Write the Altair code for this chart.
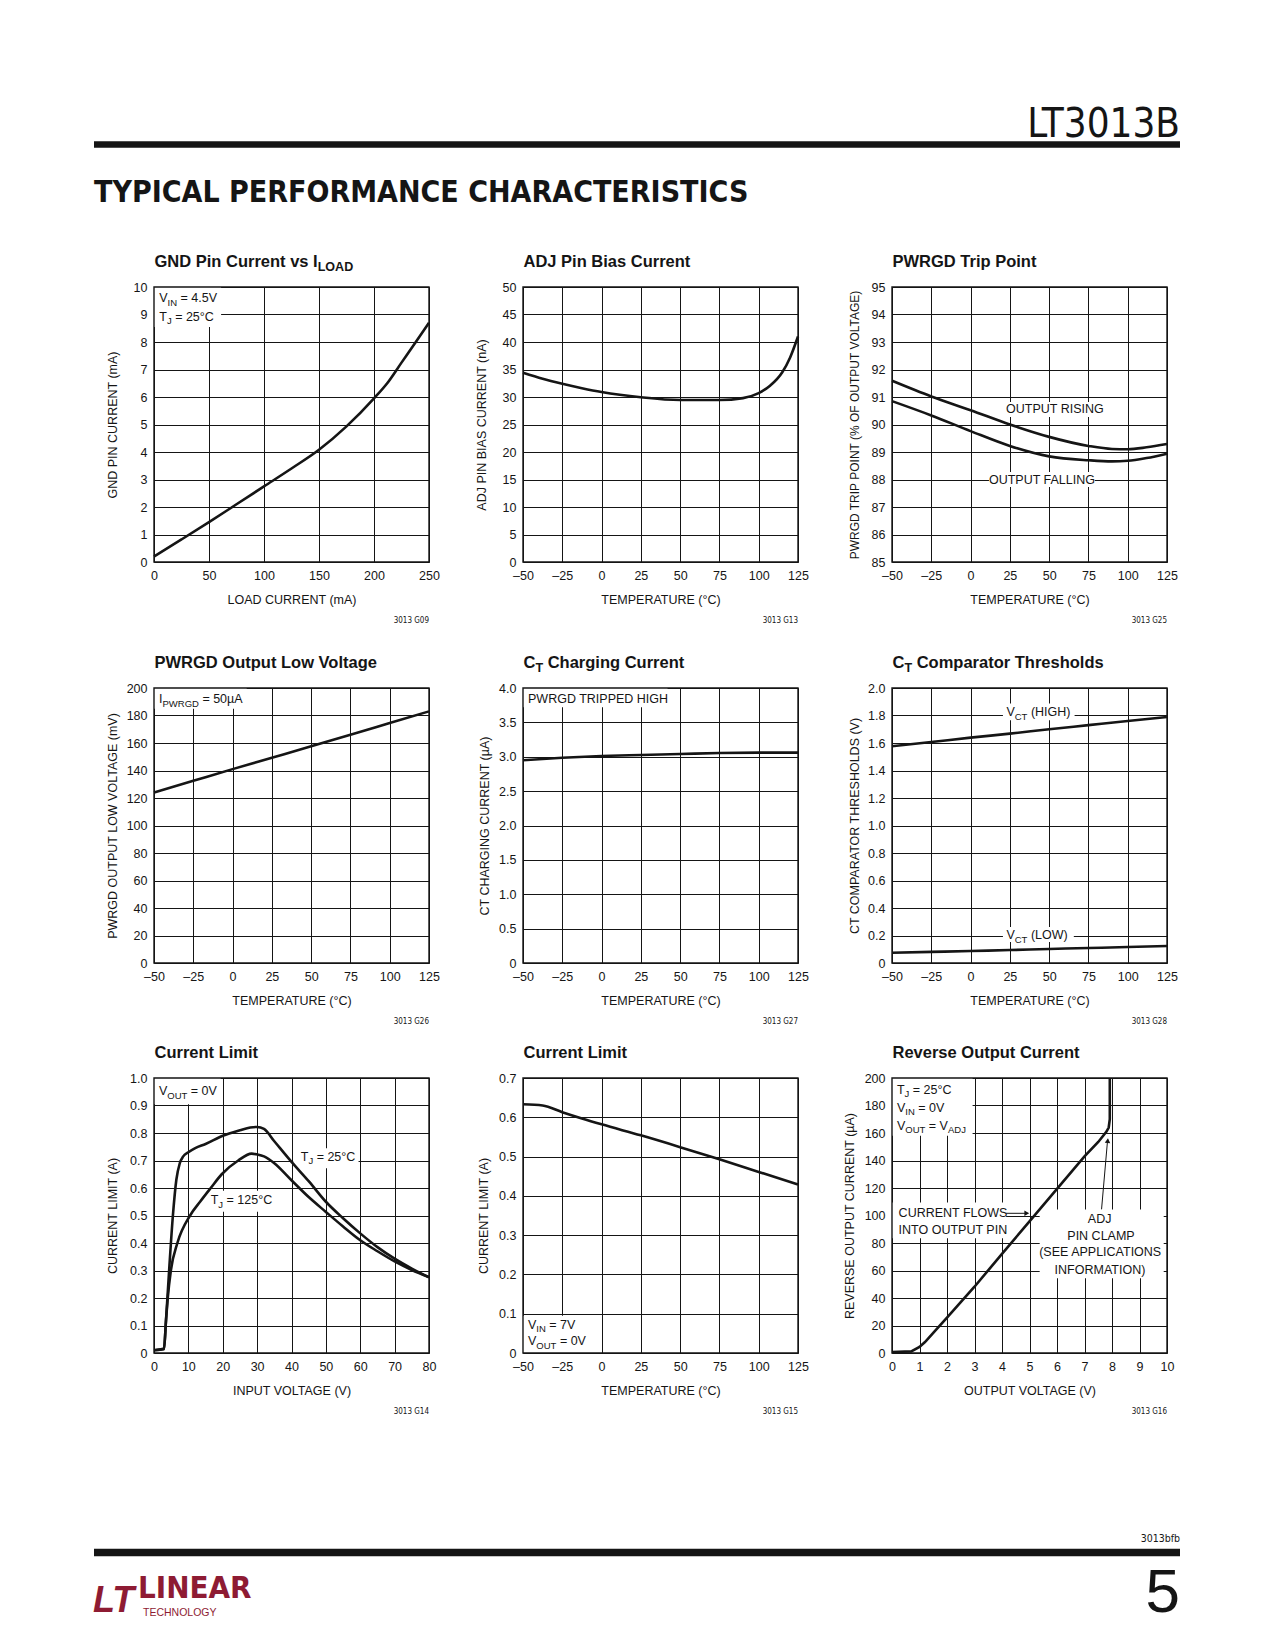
import altair as alt
import pandas as pd

FONT = "'Liberation Sans', Arial, sans-serif"
NARROW = "'DejaVu Sans Condensed', sans-serif"
INK = "#151515"
RED = "#8e1b33"
W = 275
H = 275
SUB = 0.76
FS = 12.5

# ---------------- data ----------------
gnd_load = [0, 25, 50, 75, 100, 125, 150, 175, 200, 212, 225, 238, 250]
gnd_current = [0.2, 0.82, 1.45, 2.1, 2.75, 3.4, 4.08, 4.93, 5.95, 6.5, 7.25, 8.0, 8.7]

adj_temp = [-50, -37.5, -25, -12.5, 0, 25, 50, 75, 90, 100, 107, 115, 120, 125]
adj_bias = [34.4, 33.3, 32.4, 31.6, 30.9, 29.95, 29.45, 29.45, 29.8, 30.7, 32.0, 34.5, 37.2, 41.0]

trip_temp = [-50, -25, 0, 25, 50, 75, 90, 100, 112, 125]
trip_rising = [91.59, 91.02, 90.52, 90.0, 89.55, 89.22, 89.11, 89.1, 89.17, 89.29]
trip_falling = [90.85, 90.33, 89.76, 89.22, 88.84, 88.7, 88.66, 88.68, 88.78, 88.94]

pwrgd_temp = [-50, -25, 0, 25, 50, 75, 100, 125]
pwrgd_low_mv = [124, 132.5, 141, 149.3, 157.6, 166, 174.5, 183]

ct_temp = [-50, -25, 0, 25, 50, 75, 100, 125]
ct_current = [2.95, 2.985, 3.01, 3.025, 3.04, 3.055, 3.06, 3.06]

cmp_temp = [-50, -25, 0, 25, 50, 75, 100, 125]
cmp_high = [1.576, 1.607, 1.639, 1.668, 1.70, 1.73, 1.76, 1.789]
cmp_low = [0.075, 0.081, 0.087, 0.094, 0.102, 0.109, 0.116, 0.124]

cl25_vin = [0, 2.9, 3.5, 4.5, 5.5, 6.5, 7.5, 8.5, 10, 12, 15, 20, 25, 28, 30, 32, 35, 40, 45, 50, 55, 60, 65, 70, 75, 80]
cl25_amp = [0.01, 0.015, 0.12, 0.32, 0.5, 0.63, 0.69, 0.715, 0.73, 0.745, 0.76, 0.79, 0.81, 0.82, 0.822, 0.815,
            0.77, 0.695, 0.625, 0.55, 0.49, 0.435, 0.385, 0.343, 0.307, 0.275]
cl125_vin = [0, 2.9, 3.5, 4, 4.9, 6.8, 10.5, 13.4, 16.5, 19.7, 24.5, 28.4, 30, 32, 35, 40, 45, 50, 55, 60, 65, 70, 75, 80]
cl125_amp = [0.01, 0.015, 0.12, 0.2, 0.3, 0.4, 0.5, 0.55, 0.6, 0.65, 0.7, 0.725, 0.722, 0.715, 0.69, 0.628,
             0.567, 0.513, 0.46, 0.41, 0.37, 0.333, 0.302, 0.276]

clt_temp = [-50, -37.5, -25, -12.5, 0, 25, 50, 75, 100, 125]
clt_amp = [0.633, 0.63, 0.613, 0.597, 0.582, 0.554, 0.524, 0.493, 0.461, 0.429]

rev_vout = [0, 0.7, 1.0, 1.2, 1.5, 2, 3, 4, 5, 6, 7, 7.5, 7.8, 7.88, 7.92, 7.92]
rev_ua = [0.7, 1.2, 4.4, 8, 14.6, 25.8, 48.2, 72.1, 95.7, 119.4, 143, 153.5, 161, 164, 170, 200]

temp_ticks = [-50, -25, 0, 25, 50, 75, 100, 125]
load_ticks = [0, 50, 100, 150, 200, 250]
gnd_ticks = list(range(0, 11))
adj_ticks = list(range(0, 51, 5))
trip_ticks = list(range(85, 96))
mv_ticks = list(range(0, 201, 20))
ct_ticks = [0, 0.5, 1.0, 1.5, 2.0, 2.5, 3.0, 3.5, 4.0]
cmp_ticks = [0, 0.2, 0.4, 0.6, 0.8, 1.0, 1.2, 1.4, 1.6, 1.8, 2.0]
vin_ticks = list(range(0, 81, 10))
cl_ticks = [0, 0.1, 0.2, 0.3, 0.4, 0.5, 0.6, 0.7, 0.8, 0.9, 1.0]
clt_ticks = [0, 0.1, 0.2, 0.3, 0.4, 0.5, 0.6, 0.7]
vout_ticks = list(range(0, 11))
ua_ticks = list(range(0, 201, 20))

ONE = pd.DataFrame({"k": [0]})

# ---------------- text metrics (Arial-compatible) ----------------
def _table(caps, lower, extra):
    t = {}
    for c, w in zip("ABCDEFGHIJKLMNOPQRSTUVWXYZ", caps):
        t[c] = w
    for c, w in zip("abcdefghijklmnopqrstuvwxyz", lower):
        t[c] = w
    for c in "0123456789":
        t[c] = 556
    t.update(extra)
    return t

_N = _table([667, 667, 722, 722, 667, 611, 778, 722, 278, 500, 667, 556, 833, 722, 778, 667, 778, 722, 667, 611, 722, 667, 944, 667, 667, 611],
            [556, 556, 500, 556, 556, 278, 556, 556, 222, 222, 500, 222, 833, 556, 556, 556, 556, 333, 500, 278, 556, 500, 722, 500, 500, 500],
            {" ": 278, "=": 584, ".": 278, "°": 400, "µ": 576, "(": 333, ")": 333, "%": 889, "-": 333})
_B = _table([722, 722, 722, 722, 667, 611, 778, 722, 278, 556, 722, 611, 833, 722, 778, 667, 778, 722, 667, 611, 722, 667, 944, 667, 667, 611],
            [556, 611, 556, 611, 556, 333, 611, 611, 278, 278, 556, 278, 889, 611, 611, 611, 611, 389, 556, 333, 611, 556, 778, 556, 556, 500],
            {" ": 278, "=": 584, ".": 278, "(": 333, ")": 333})


def tw(s, size, bold=False):
    tb = _B if bold else _N
    return sum(tb.get(c, 556) for c in s) * size / 1000.0


def rich(parts, x, y, X=None, Y=None, size=FS, bold=False, align="left", color=INK, font=FONT):
    """Text made of normal and subscript pieces. Data coords if X/Y given, else pixels."""
    widths = [tw(t, size * (SUB if s else 1), bold) for t, s in parts]
    total = sum(widths)
    off = {"left": 0, "center": -total / 2, "right": -total}[align]
    out = []
    for (t, s), w in zip(parts, widths):
        fs = size * SUB if s else size
        shown = t.lstrip(" ")
        lead = tw(t[: len(t) - len(shown)], fs, bold)
        m = alt.Chart(pd.DataFrame({"tx": [x], "ty": [y]})).mark_text(
            text=shown, align="left", baseline="alphabetic", dx=off + lead, dy=(size * 0.27 if s else 0),
            fontSize=fs, font=font, fontWeight="bold" if bold else "normal", color=color)
        if X is None:
            out.append(m.encode(x=alt.value(x), y=alt.value(y)))
        else:
            out.append(m.encode(x=X("tx"), y=Y("ty")))
        off += w
    return out


def ptext(text, x, y, size, align="left", font=FONT, weight="normal", color=INK, style="normal"):
    return alt.Chart(ONE).mark_text(text=text, align=align, baseline="alphabetic", fontSize=size,
                                    font=font, fontWeight=weight, color=color, fontStyle=style).encode(
        x=alt.value(x), y=alt.value(y))


def prule(x0, x1, y, width, color=INK):
    return alt.Chart(ONE).mark_rule(color=color, strokeWidth=width).encode(
        x=alt.value(x0), x2=alt.value(x1), y=alt.value(y))


def line(X, Y, xs, ys, interp="monotone", sw=2.6):
    df = pd.DataFrame({"x": xs, "y": ys, "i": list(range(len(xs)))})
    return alt.Chart(df).mark_line(color=INK, strokeWidth=sw, interpolate=interp).encode(
        x=X("x"), y=Y("y"), order=alt.Order("i:Q"))


def boxes(X, Y, rows):
    df = pd.DataFrame(rows, columns=["x0", "x1", "y0", "y1"])
    return alt.Chart(df).mark_rect(color="white", opacity=1).encode(
        x=X("x0"), x2=alt.X2("x1"), y=Y("y0"), y2=alt.Y2("y1"))


def arrow_line(X, Y, x0, y0, x1, y1):
    df = pd.DataFrame({"x0": [x0], "y0": [y0], "x1": [x1], "y1": [y1]})
    return alt.Chart(df).mark_rule(color=INK, strokeWidth=1).encode(
        x=X("x0"), y=Y("y0"), x2=alt.X2("x1"), y2=alt.Y2("y1"))


def arrow_head(X, Y, x, y, shape, angle=0):
    df = pd.DataFrame({"px": [x], "py": [y]})
    return alt.Chart(df).mark_point(shape=shape, filled=True, size=30, color=INK, opacity=1,
                                    strokeWidth=0, angle=angle).encode(x=X("px"), y=Y("py"))


INT_EXPR = "datum.value < 0 ? '\u2013' + format(-datum.value, 'd') : format(datum.value, 'd')"
DEC_EXPR = "datum.value == 0 ? '0' : format(datum.value, '.1f')"


def panel(xdom, xticks, ydom, yticks, xtitle, ytitle, title_parts, fig, body,
          yexpr=INT_EXPR, ytx=-37.5, ytsize=FS, extra=None):
    xaxis = alt.Axis(values=xticks, title=xtitle, labelExpr=INT_EXPR, titleX=W / 2, titleY=41.5,
                     titleBaseline="alphabetic", titleAlign="center")
    yaxis = alt.Axis(values=yticks, title=ytitle, labelExpr=yexpr, titleX=ytx, titleY=H / 2,
                     titleAngle=270, titleBaseline="alphabetic", titleAlign="center", titleFontSize=ytsize)

    def X(f):
        return alt.X(f, type="quantitative", scale=alt.Scale(domain=xdom, nice=False, zero=False), axis=xaxis)

    def Y(f):
        return alt.Y(f, type="quantitative", scale=alt.Scale(domain=ydom, nice=False, zero=False), axis=yaxis)

    layers = body(X, Y)
    layers.append(alt.Chart(ONE).mark_rect(filled=False, stroke=INK, strokeWidth=1.4).encode(
        x=alt.value(0), x2=alt.value(W), y=alt.value(0), y2=alt.value(H)))
    layers += rich(title_parts, 0.5, -20, size=16.5, bold=True)
    layers.append(ptext(fig, W, 336, 8, align="right", font=NARROW))
    if extra:
        layers += extra
    return alt.layer(*layers).properties(width=W, height=H)


def spacer(h):
    return alt.Chart(ONE).mark_point(opacity=0).encode(
        x=alt.value(0), y=alt.value(0)).properties(width=W, height=h)


# ---------------- panels ----------------
def body1(X, Y):
    L = [boxes(X, Y, [(0, 61, 8.55, 10)]), line(X, Y, gnd_load, gnd_current)]
    L += rich([("V", 0), ("IN", 1), (" = 4.5V", 0)], 4.8, 9.45, X, Y)
    L += rich([("T", 0), ("J", 1), (" = 25°C", 0)], 4.8, 8.76, X, Y)
    return L


header = [
    prule(-145.5, -140, -278.2, 1, color="white"),
    ptext("LT3013B", 1026, -149.7, 40, align="right", font=NARROW),
    prule(-60, 1026, -142.5, 6.5),
    ptext("TYPICAL PERFORMANCE CHARACTERISTICS", -60, -84.7, 30, font=NARROW, weight="bold"),
]

p1 = panel([0, 250], load_ticks, [0, 10], gnd_ticks, "LOAD CURRENT (mA)", "GND PIN CURRENT (mA)",
           [("GND Pin Current vs I", 0), ("LOAD", 1)], "3013 G09", body1, extra=header)


def body2(X, Y):
    return [line(X, Y, adj_temp, adj_bias)]


p2 = panel([-50, 125], temp_ticks, [0, 50], adj_ticks, "TEMPERATURE (°C)", "ADJ PIN BIAS CURRENT (nA)",
           [("ADJ Pin Bias Current", 0)], "3013 G13", body2)


def body3(X, Y):
    L = [boxes(X, Y, [(22.8, 84.7, 90.27, 90.82), (11.7, 79.0, 87.73, 88.27)]),
         line(X, Y, trip_temp, trip_rising), line(X, Y, trip_temp, trip_falling)]
    L += rich([("OUTPUT RISING", 0)], 53.7, 90.41, X, Y, align="center")
    L += rich([("OUTPUT FALLING", 0)], 45.7, 87.84, X, Y, align="center")
    return L


p3 = panel([-50, 125], temp_ticks, [85, 95], trip_ticks, "TEMPERATURE (°C)",
           "PWRGD TRIP POINT (% OF OUTPUT VOLTAGE)", [("PWRGD Trip Point", 0)], "3013 G25", body3,
           ytx=-34, ytsize=12)


def body4(X, Y):
    L = [boxes(X, Y, [(-50, 9, 185, 200)]), line(X, Y, pwrgd_temp, pwrgd_low_mv)]
    L += rich([("I", 0), ("PWRGD", 1), (" = 50µA", 0)], -46.8, 189, X, Y)
    return L


p4 = panel([-50, 125], temp_ticks, [0, 200], mv_ticks, "TEMPERATURE (°C)", "PWRGD OUTPUT LOW VOLTAGE (mV)",
           [("PWRGD Output Low Voltage", 0)], "3013 G26", body4, ytx=-38)


def body5(X, Y):
    L = [boxes(X, Y, [(-50, 42, 3.72, 4)]), line(X, Y, ct_temp, ct_current)]
    L += rich([("PWRGD TRIPPED HIGH", 0)], -46.8, 3.786, X, Y)
    return L


p5 = panel([-50, 125], temp_ticks, [0, 4], ct_ticks, "TEMPERATURE (°C)", "CT CHARGING CURRENT (µA)",
           [("C", 0), ("T", 1), (" Charging Current", 0)], "3013 G27", body5, yexpr=DEC_EXPR, ytx=-35)


def body6(X, Y):
    L = [boxes(X, Y, [(20.6, 66.2, 1.765, 1.887), (20.6, 65.7, 0.153, 0.262)]),
         line(X, Y, cmp_temp, cmp_high), line(X, Y, cmp_temp, cmp_low)]
    L += rich([("V", 0), ("CT", 1), (" (HIGH)", 0)], 22.8, 1.794, X, Y)
    L += rich([("V", 0), ("CT", 1), (" (LOW)", 0)], 22.8, 0.172, X, Y)
    return L


p6 = panel([-50, 125], temp_ticks, [0, 2], cmp_ticks, "TEMPERATURE (°C)", "CT COMPARATOR THRESHOLDS (V)",
           [("C", 0), ("T", 1), (" Comparator Thresholds", 0)], "3013 G28", body6, yexpr=DEC_EXPR, ytx=-34)


def body7(X, Y):
    L = [boxes(X, Y, [(0, 19.4, 0.905, 1), (40.5, 59.5, 0.672, 0.745), (15.8, 35.2, 0.514, 0.59)]),
         line(X, Y, cl25_vin, cl25_amp), line(X, Y, cl125_vin, cl125_amp)]
    L += rich([("V", 0), ("OUT", 1), (" = 0V", 0)], 1.45, 0.937, X, Y)
    L += rich([("T", 0), ("J", 1), (" = 25°C", 0)], 42.7, 0.70, X, Y)
    L += rich([("T", 0), ("J", 1), (" = 125°C", 0)], 16.5, 0.541, X, Y)
    return L


footer = [
    ptext("3013bfb", 1026, 464, 10.5, align="right", font=NARROW),
    prule(-60, 1026, 474.6, 7.5),
    ptext("5", 1026, 534.3, 62, align="right", font=FONT),
    ptext("LT", -61, 534.3, 36, font=FONT, weight="bold", color=RED, style="italic"),
    ptext("LINEAR", -16, 519.5, 31, font=NARROW, weight="bold", color=RED),
    ptext("TECHNOLOGY", -11, 537.5, 10.5, font=FONT, color=RED),
]

p7 = panel([0, 80], vin_ticks, [0, 1], cl_ticks, "INPUT VOLTAGE (V)", "CURRENT LIMIT (A)",
           [("Current Limit", 0)], "3013 G14", body7, yexpr=DEC_EXPR, extra=footer)


def body8(X, Y):
    L = [boxes(X, Y, [(-50, -8, 0, 0.095)]), line(X, Y, clt_temp, clt_amp)]
    L += rich([("V", 0), ("IN", 1), (" = 7V", 0)], -46.8, 0.062, X, Y)
    L += rich([("V", 0), ("OUT", 1), (" = 0V", 0)], -46.8, 0.0197, X, Y)
    return L


p8 = panel([-50, 125], temp_ticks, [0, 0.7], clt_ticks, "TEMPERATURE (°C)", "CURRENT LIMIT (A)",
           [("Current Limit", 0)], "3013 G15", body8, yexpr=DEC_EXPR, ytx=-36)


def body9(X, Y):
    L = [boxes(X, Y, [(0, 2.93, 158, 200), (0, 4.15, 83.5, 109.5), (5.37, 9.88, 54.3, 104.3)]),
         line(X, Y, rev_vout, rev_ua, interp="linear"),
         arrow_line(X, Y, 4.15, 101.6, 4.95, 101.6), arrow_head(X, Y, 4.9, 101.6, "triangle-right"),
         arrow_line(X, Y, 7.62, 104.5, 7.84, 155.0), arrow_head(X, Y, 7.845, 154.5, "triangle-up", 5)]
    L += rich([("T", 0), ("J", 1), (" = 25°C", 0)], 0.18, 188.4, X, Y)
    L += rich([("V", 0), ("IN", 1), (" = 0V", 0)], 0.18, 175.3, X, Y)
    L += rich([("V", 0), ("OUT", 1), (" = V", 0), ("ADJ", 1)], 0.18, 162.4, X, Y)
    L += rich([("CURRENT FLOWS", 0)], 0.24, 98.9, X, Y)
    L += rich([("INTO OUTPUT PIN", 0)], 0.24, 86.8, X, Y)
    L += rich([("ADJ", 0)], 7.55, 94.5, X, Y, align="center")
    L += rich([("PIN CLAMP", 0)], 7.6, 82.3, X, Y, align="center")
    L += rich([("(SEE APPLICATIONS", 0)], 7.6, 70.2, X, Y, align="center")
    L += rich([("INFORMATION)", 0)], 7.58, 57.5, X, Y, align="center")
    return L


p9 = panel([0, 10], vout_ticks, [0, 200], ua_ticks, "OUTPUT VOLTAGE (V)", "REVERSE OUTPUT CURRENT (µA)",
           [("Reverse Output Current", 0)], "3013 G16", body9, ytx=-39)

cells = [p1, p2, p3,
         spacer(126), spacer(126), spacer(126),
         p4, p5, p6,
         spacer(115), spacer(115), spacer(115),
         p7, p8, p9]

chart = alt.concat(*cells, columns=3, spacing={"row": 0, "column": 94}, bounds="flush").properties(
    padding=0, background="white"
).configure_view(stroke=None).configure_axis(
    labelFont=FONT, labelFontSize=FS, labelColor=INK,
    titleFont=FONT, titleFontSize=FS, titleFontWeight="normal", titleColor=INK,
    grid=True, gridColor=INK, gridOpacity=1, gridWidth=1,
    domain=False, ticks=False, tickSize=0, labelFlush=False, labelOverlap=False,
).configure_axisX(labelPadding=7).configure_axisY(labelPadding=7)

chart.save("out.html", embed_options={"renderer": "svg", "actions": False})
